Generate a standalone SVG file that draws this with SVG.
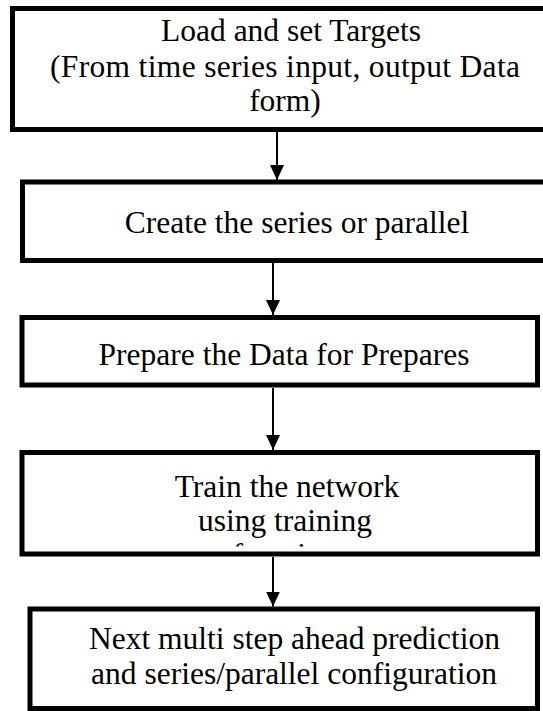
<svg xmlns="http://www.w3.org/2000/svg" width="543" height="711" viewBox="0 0 543 711">
<style>
.box{fill:#fff;stroke:#000;stroke-width:5}
.lbl{font-family:"Liberation Serif","Times New Roman",serif;font-size:31.5px;fill:#000;text-anchor:middle}
.conn{stroke:#000;stroke-width:2;fill:none}
</style>
<defs>
<marker id="ah" viewBox="0 0 15 14" refX="15" refY="7" markerWidth="15" markerHeight="14" markerUnits="userSpaceOnUse" orient="auto">
<path d="M0,0 L15,7 L0,14 Z" fill="#000"/>
</marker>
<clipPath id="clip4"><rect x="0" y="440" width="543" height="106.5"/></clipPath>
</defs>
<rect width="543" height="711" fill="#fff"/>
<g id="n1">
<rect class="box" x="12.5" y="8.5" width="620" height="121"/>
<text class="lbl" x="291" y="41">Load and set Targets</text>
<text class="lbl" x="285" y="77" textLength="470" lengthAdjust="spacing">(From time series input, output Data</text>
<text class="lbl" x="285" y="111">form)</text>
</g>
<g id="n2">
<rect class="box" x="22.5" y="182" width="620" height="78.5"/>
<text class="lbl" x="297" y="233">Create the series or parallel</text>
</g>
<g id="n3">
<rect class="box" x="22" y="317.5" width="515.5" height="67.5"/>
<text class="lbl" x="284" y="365">Prepare the Data for Prepares</text>
</g>
<g id="n4">
<rect class="box" x="22" y="452.5" width="515.5" height="101.5"/>
<text class="lbl" x="287" y="497">Train the network</text>
<text class="lbl" x="285" y="531">using training</text>
<g clip-path="url(#clip4)">
<text class="lbl" x="285" y="565">function</text>
</g>
</g>
<g id="n5">
<rect class="box" x="30" y="609" width="507.5" height="99.5"/>
<text class="lbl" x="294.5" y="649">Next multi step ahead prediction</text>
<text class="lbl" x="294" y="684">and series/parallel configuration</text>
</g>
<g id="connectors">
<line class="conn" x1="277" y1="132" x2="277" y2="180" marker-end="url(#ah)"/>
<line class="conn" x1="273" y1="263" x2="273" y2="315" marker-end="url(#ah)"/>
<line class="conn" x1="273" y1="388" x2="273" y2="450" marker-end="url(#ah)"/>
<line class="conn" x1="273" y1="557" x2="273" y2="606.5" marker-end="url(#ah)"/>
</g>
</svg>
